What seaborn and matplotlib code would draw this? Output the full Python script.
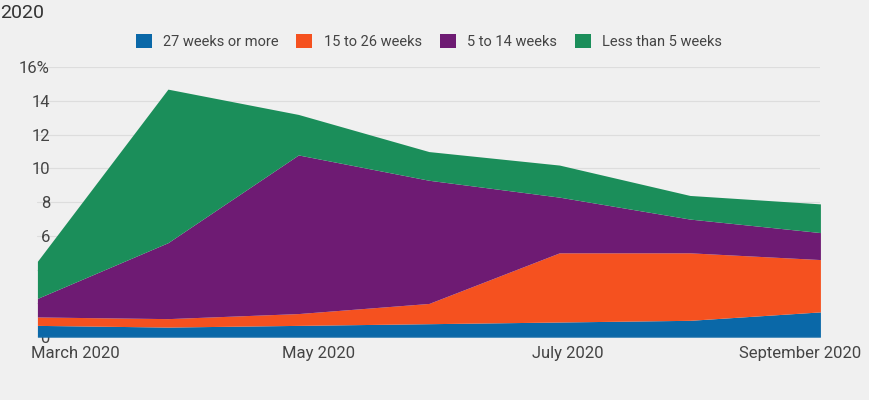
import matplotlib
matplotlib.use("Agg")
import matplotlib.pyplot as plt
import matplotlib.transforms as mtransforms
import seaborn as sns
import numpy as np

months = ["March 2020", "April 2020", "May 2020", "June 2020", "July 2020", "August 2020", "September 2020"]
long_27 = [0.7, 0.6, 0.7, 0.8, 0.9, 1.0, 1.5]
mid_15_26 = [0.5, 0.5, 0.7, 1.2, 4.1, 4.0, 3.1]
mid_5_14 = [1.1, 4.5, 9.4, 7.3, 3.3, 2.0, 1.6]
short_5 = [2.2, 9.1, 2.4, 1.7, 1.9, 1.4, 1.7]
labels = ["27 weeks or more", "15 to 26 weeks", "5 to 14 weeks", "Less than 5 weeks"]
colors = ["#0a68a8", "#f5511f", "#6e1b73", "#1b8e5a"]

sns.set_style("whitegrid")
plt.rcParams["font.family"] = ["Roboto", "DejaVu Sans"]

fig = plt.figure(figsize=(8.7, 4.0), dpi=100, facecolor="#f0f0f0")
ax = fig.add_axes([0.043, 0.157, 0.9, 0.675])
ax.set_facecolor("#f0f0f0")
x = np.arange(len(months))
ax.stackplot(x, long_27, mid_15_26, mid_5_14, short_5, labels=labels, colors=colors,
             linewidth=0)

ax.set_xlim(0, len(months) - 1)
ax.set_ylim(0, 16)
ax.set_yticks(range(0, 17, 2))
ax.set_yticklabels([str(v) if v < 16 else "16%" for v in range(0, 17, 2)])
ax.set_xticks(x[::2])
ax.set_xticklabels(months[::2])
ax.tick_params(labelsize=12, colors="#444444", length=0)
ax.tick_params(axis="y", pad=-9)
ax.tick_params(axis="x", pad=6)
xt = ax.get_xticklabels()
xt[0].set_transform(xt[0].get_transform() + mtransforms.ScaledTranslation(0.38, 0, fig.dpi_scale_trans))
xt[1].set_transform(xt[1].get_transform() + mtransforms.ScaledTranslation(0.2, 0, fig.dpi_scale_trans))
xt[2].set_transform(xt[2].get_transform() + mtransforms.ScaledTranslation(0.08, 0, fig.dpi_scale_trans))
xt[3].set_transform(xt[3].get_transform() + mtransforms.ScaledTranslation(-0.2, 0, fig.dpi_scale_trans))
ax.grid(axis="y", color="#dddddd", linewidth=0.8)
ax.grid(axis="x", visible=False)
for s in ax.spines.values():
    s.set_visible(False)
ax.axhline(0, color="#999999", linewidth=0.8)

ax.legend(loc="lower center", bbox_to_anchor=(0.5, 1.02), ncol=4, frameon=False,
          fontsize=10.5, handlelength=1.1, handleheight=1.1, columnspacing=1.2,
          labelcolor="#444444")
fig.text(0.0, 0.955, "2020", fontsize=14, color="#333333")

fig.savefig("out.png", facecolor=fig.get_facecolor())
